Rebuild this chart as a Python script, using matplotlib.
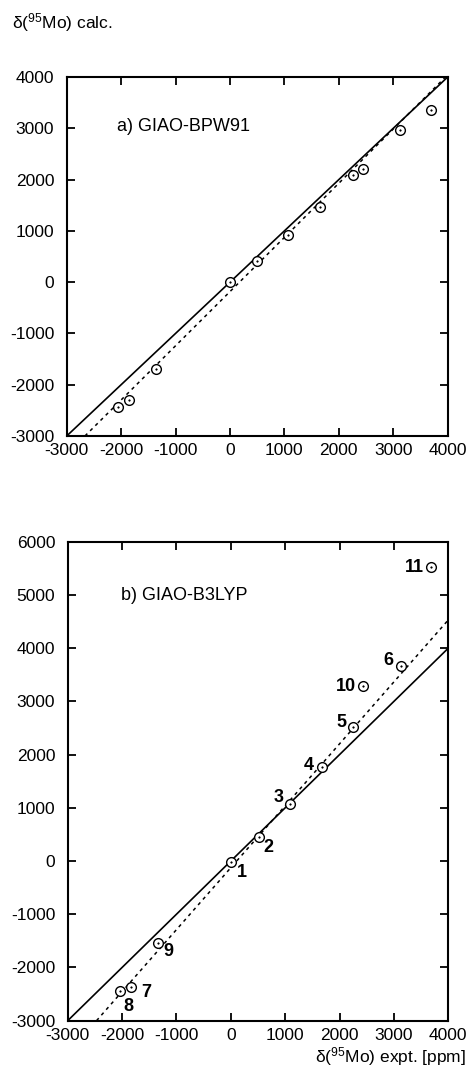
import matplotlib
matplotlib.use("Agg")
import matplotlib.pyplot as plt

plt.rcParams['font.family'] = ['Liberation Sans', 'DejaVu Sans']
plt.rcParams['mathtext.fontset'] = 'custom'
plt.rcParams['mathtext.rm'] = 'Liberation Sans'
plt.rcParams['mathtext.it'] = 'Liberation Sans:italic'
plt.rcParams['mathtext.bf'] = 'Liberation Sans:bold'
plt.rcParams['axes.unicode_minus'] = False

# ---- data: panel a) GIAO-BPW91 ----
a_expt = [-2050, -1855, -1360, 0, 505, 1070, 1655, 2255, 2440, 3130, 3700]
a_calc = [-2425, -2295, -1695, 5, 410, 920, 1470, 2090, 2205, 2965, 3355]
a_ideal_x = [-3000, 4000]
a_ideal_y = [-3000, 4000]
a_fit_x = [-2665, 3960]
a_fit_y = [-3000, 4000]

# ---- data: panel b) GIAO-B3LYP ----
b_labels = ['1', '2', '3', '4', '5', '6', '7', '8', '9', '10', '11']
b_expt = [10, 515, 1085, 1670, 2250, 3130, -1840, -2040, -1345, 2440, 3685]
b_calc = [-10, 460, 1075, 1765, 2510, 3665, -2370, -2440, -1540, 3280, 5520]
b_ideal_x = [-3000, 4000]
b_ideal_y = [-3000, 4000]
b_fit_x = [-2470, 4000]
b_fit_y = [-3000, 4530]

xticks = [-3000, -2000, -1000, 0, 1000, 2000, 3000, 4000]
a_yticks = [-3000, -2000, -1000, 0, 1000, 2000, 3000, 4000]
b_yticks = [-3000, -2000, -1000, 0, 1000, 2000, 3000, 4000, 5000, 6000]

# label offsets in pixels (dx, dy)
b_offsets = [(11, -11), (10, -11), (-11, 6), (-13, 2), (-12, 5), (-13, 5),
             (15, -5), (8, -16), (11, -9), (-18, 0), (-17, 0)]

W, H = 471, 1077
fig = plt.figure(figsize=(W / 100, H / 100), dpi=100)

ax1 = fig.add_axes([66.7 / W, 1 - 436 / H, (447.7 - 66.7) / W, (436 - 77) / H])
ax2 = fig.add_axes([67.7 / W, 1 - 1020.7 / H, (448.3 - 67.7) / W, (1020.7 - 541.7) / H])


def style(ax, yticks, ylim):
    ax.set_xlim(-3000, 4000)
    ax.set_ylim(*ylim)
    ax.set_xticks(xticks)
    ax.set_yticks(yticks)
    ax.tick_params(direction='in', length=6, width=1.3, top=True, right=True,
                   labelsize=12.5, colors='black')
    ax.tick_params(axis='x', pad=5)
    ax.tick_params(axis='y', pad=9)
    for s in ax.spines.values():
        s.set_linewidth(1.5)


def points(ax, x, y):
    ax.plot(x, y, linestyle='none', marker='o', markersize=7,
            markerfacecolor='white', markeredgecolor='black', markeredgewidth=1.0, zorder=3)
    ax.plot(x, y, linestyle='none', marker='o', markersize=1.2,
            markerfacecolor='black', markeredgecolor='black', markeredgewidth=0.3, zorder=4)


# panel a
ax1.plot(a_ideal_x, a_ideal_y, color='black', linewidth=1.2)
ax1.plot(a_fit_x, a_fit_y, color='black', linewidth=1.1, linestyle=(0, (2.2, 2.6)))
points(ax1, a_expt, a_calc)
style(ax1, a_yticks, (-3000, 4000))
ax1.text(0.131, 0.862, 'a) GIAO-BPW91', transform=ax1.transAxes, fontsize=13,
         ha='left', va='center')

# panel b
ax2.plot(b_ideal_x, b_ideal_y, color='black', linewidth=1.2)
ax2.plot(b_fit_x, b_fit_y, color='black', linewidth=1.1, linestyle=(0, (2.2, 2.6)))
points(ax2, b_expt, b_calc)
for lab, x, y, (dx, dy) in zip(b_labels, b_expt, b_calc, b_offsets):
    ax2.annotate(lab, (x, y), xytext=(dx, dy), textcoords='offset pixels',
                 fontsize=13, fontweight='bold', ha='center', va='center')
style(ax2, b_yticks, (-3000, 6000))
ax2.text(0.14, 0.887, 'b) GIAO-B3LYP', transform=ax2.transAxes, fontsize=13,
         ha='left', va='center')

fig.text(12 / W, 1 - 23 / H, r'δ($^{95}$Mo) calc.', fontsize=12.5, ha='left', va='center')
fig.text(466 / W, 1 - 1057 / H, r'δ($^{95}$Mo) expt. [ppm]', fontsize=12.5,
         ha='right', va='center')

fig.savefig('out.png', dpi=100)
